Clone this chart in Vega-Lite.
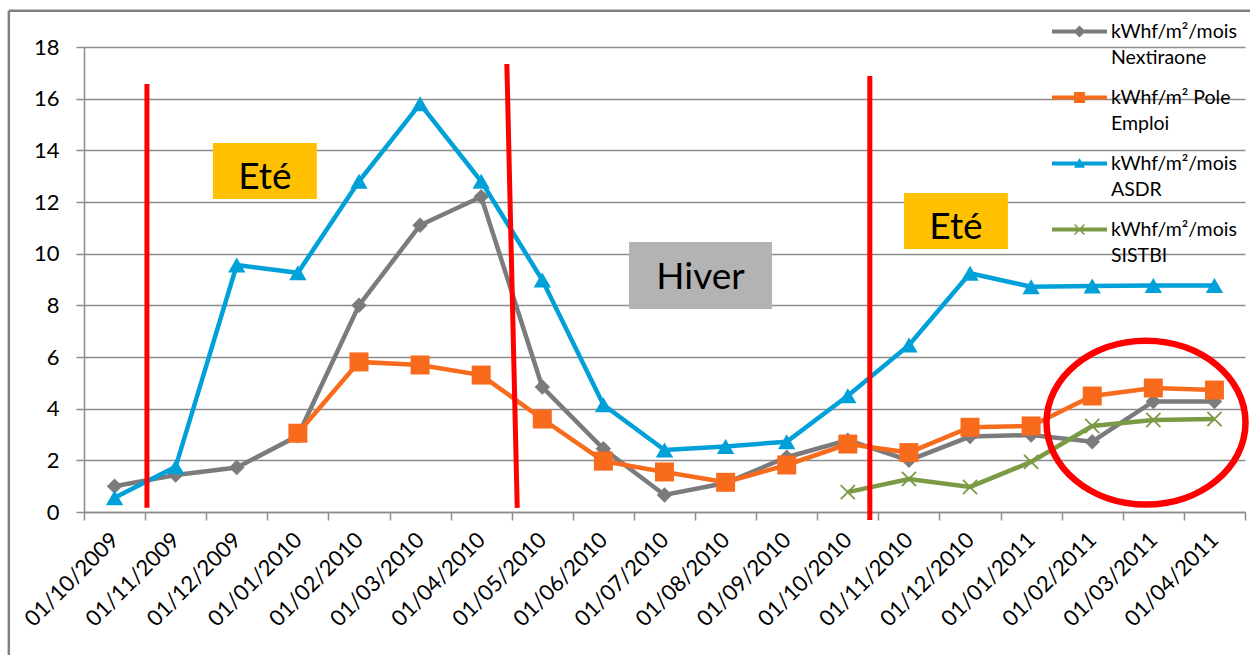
{
  "$schema": "https://vega.github.io/schema/vega-lite/v6.json",
  "width": 1161,
  "height": 465,
  "autosize": "none",
  "padding": {"left": 84, "top": 47, "right": 5, "bottom": 143},
  "background": "white",
  "config": {
    "font": "Lato",
    "view": {"stroke": null},
    "style": {"guide-label": {"lineHeight": 26}},
    "axisY": {"domainColor": "#8C8C8C", "domainWidth": 1.5, "gridColor": "#8C8C8C", "gridWidth": 1.5, "tickColor": "#8C8C8C", "tickWidth": 1.5, "tickSize": 8, "labelFont": "Lato", "labelFontSize": 22, "labelColor": "#000000", "labelPadding": 17, "tickCount": 9},
    "axisX": {"domainColor": "#8C8C8C", "domainWidth": 1.5, "grid": false, "tickColor": "#8C8C8C", "tickWidth": 1.5, "tickSize": 8, "labelFont": "Lato", "labelFontSize": 22, "labelColor": "#000000", "labelAngle": -45, "labelAlign": "right", "labelBaseline": "middle", "labelPadding": 16, "tickBand": "extent"}
  },
  "datasets": {
    "conso": [
      {"date": "01/10/2009", "series": "kWhf/m²/mois\nNextiraone", "v": 1.0},
      {"date": "01/11/2009", "series": "kWhf/m²/mois\nNextiraone", "v": 1.43},
      {"date": "01/12/2009", "series": "kWhf/m²/mois\nNextiraone", "v": 1.72},
      {"date": "01/01/2010", "series": "kWhf/m²/mois\nNextiraone", "v": 2.95},
      {"date": "01/02/2010", "series": "kWhf/m²/mois\nNextiraone", "v": 8.0},
      {"date": "01/03/2010", "series": "kWhf/m²/mois\nNextiraone", "v": 11.1},
      {"date": "01/04/2010", "series": "kWhf/m²/mois\nNextiraone", "v": 12.2},
      {"date": "01/05/2010", "series": "kWhf/m²/mois\nNextiraone", "v": 4.84},
      {"date": "01/06/2010", "series": "kWhf/m²/mois\nNextiraone", "v": 2.45},
      {"date": "01/07/2010", "series": "kWhf/m²/mois\nNextiraone", "v": 0.66},
      {"date": "01/08/2010", "series": "kWhf/m²/mois\nNextiraone", "v": 1.12},
      {"date": "01/09/2010", "series": "kWhf/m²/mois\nNextiraone", "v": 2.12},
      {"date": "01/10/2010", "series": "kWhf/m²/mois\nNextiraone", "v": 2.78},
      {"date": "01/11/2010", "series": "kWhf/m²/mois\nNextiraone", "v": 2.0},
      {"date": "01/12/2010", "series": "kWhf/m²/mois\nNextiraone", "v": 2.92},
      {"date": "01/01/2011", "series": "kWhf/m²/mois\nNextiraone", "v": 2.98},
      {"date": "01/02/2011", "series": "kWhf/m²/mois\nNextiraone", "v": 2.72},
      {"date": "01/03/2011", "series": "kWhf/m²/mois\nNextiraone", "v": 4.28},
      {"date": "01/04/2011", "series": "kWhf/m²/mois\nNextiraone", "v": 4.28},
      {"date": "01/01/2010", "series": "kWhf/m² Pole\nEmploi", "v": 3.05},
      {"date": "01/02/2010", "series": "kWhf/m² Pole\nEmploi", "v": 5.81},
      {"date": "01/03/2010", "series": "kWhf/m² Pole\nEmploi", "v": 5.69},
      {"date": "01/04/2010", "series": "kWhf/m² Pole\nEmploi", "v": 5.3},
      {"date": "01/05/2010", "series": "kWhf/m² Pole\nEmploi", "v": 3.6},
      {"date": "01/06/2010", "series": "kWhf/m² Pole\nEmploi", "v": 1.97},
      {"date": "01/07/2010", "series": "kWhf/m² Pole\nEmploi", "v": 1.55},
      {"date": "01/08/2010", "series": "kWhf/m² Pole\nEmploi", "v": 1.15},
      {"date": "01/09/2010", "series": "kWhf/m² Pole\nEmploi", "v": 1.82},
      {"date": "01/10/2010", "series": "kWhf/m² Pole\nEmploi", "v": 2.63},
      {"date": "01/11/2010", "series": "kWhf/m² Pole\nEmploi", "v": 2.3},
      {"date": "01/12/2010", "series": "kWhf/m² Pole\nEmploi", "v": 3.28},
      {"date": "01/01/2011", "series": "kWhf/m² Pole\nEmploi", "v": 3.33},
      {"date": "01/02/2011", "series": "kWhf/m² Pole\nEmploi", "v": 4.49},
      {"date": "01/03/2011", "series": "kWhf/m² Pole\nEmploi", "v": 4.8},
      {"date": "01/04/2011", "series": "kWhf/m² Pole\nEmploi", "v": 4.72},
      {"date": "01/10/2009", "series": "kWhf/m²/mois\nASDR", "v": 0.55},
      {"date": "01/11/2009", "series": "kWhf/m²/mois\nASDR", "v": 1.75},
      {"date": "01/12/2009", "series": "kWhf/m²/mois\nASDR", "v": 9.56},
      {"date": "01/01/2010", "series": "kWhf/m²/mois\nASDR", "v": 9.26},
      {"date": "01/02/2010", "series": "kWhf/m²/mois\nASDR", "v": 12.8},
      {"date": "01/03/2010", "series": "kWhf/m²/mois\nASDR", "v": 15.8},
      {"date": "01/04/2010", "series": "kWhf/m²/mois\nASDR", "v": 12.8},
      {"date": "01/05/2010", "series": "kWhf/m²/mois\nASDR", "v": 8.98},
      {"date": "01/06/2010", "series": "kWhf/m²/mois\nASDR", "v": 4.15},
      {"date": "01/07/2010", "series": "kWhf/m²/mois\nASDR", "v": 2.4},
      {"date": "01/08/2010", "series": "kWhf/m²/mois\nASDR", "v": 2.54},
      {"date": "01/09/2010", "series": "kWhf/m²/mois\nASDR", "v": 2.72},
      {"date": "01/10/2010", "series": "kWhf/m²/mois\nASDR", "v": 4.5},
      {"date": "01/11/2010", "series": "kWhf/m²/mois\nASDR", "v": 6.46},
      {"date": "01/12/2010", "series": "kWhf/m²/mois\nASDR", "v": 9.24},
      {"date": "01/01/2011", "series": "kWhf/m²/mois\nASDR", "v": 8.72},
      {"date": "01/02/2011", "series": "kWhf/m²/mois\nASDR", "v": 8.75},
      {"date": "01/03/2011", "series": "kWhf/m²/mois\nASDR", "v": 8.77},
      {"date": "01/04/2011", "series": "kWhf/m²/mois\nASDR", "v": 8.77},
      {"date": "01/10/2010", "series": "kWhf/m²/mois\nSISTBI", "v": 0.77},
      {"date": "01/11/2010", "series": "kWhf/m²/mois\nSISTBI", "v": 1.28},
      {"date": "01/12/2010", "series": "kWhf/m²/mois\nSISTBI", "v": 0.97},
      {"date": "01/01/2011", "series": "kWhf/m²/mois\nSISTBI", "v": 1.94},
      {"date": "01/02/2011", "series": "kWhf/m²/mois\nSISTBI", "v": 3.33},
      {"date": "01/03/2011", "series": "kWhf/m²/mois\nSISTBI", "v": 3.56},
      {"date": "01/04/2011", "series": "kWhf/m²/mois\nSISTBI", "v": 3.6}
    ],
    "frame": [
      {"x": -1.23, "x2": -1.23, "y": 19.4, "y2": -7},
      {"x": -1.23, "x2": 20.5, "y": 19.4, "y2": 19.4}
    ],
    "eteBoxes": [
      {"x": 2.11, "x2": 3.81, "y": 14.28, "y2": 12.12, "tx": 2.96, "ty": 12.5, "label": "Eté"},
      {"x": 13.42, "x2": 15.12, "y": 12.35, "y2": 10.18, "tx": 14.27, "ty": 10.55, "label": "Eté"}
    ],
    "hiverBox": [
      {"x": 8.92, "x2": 11.26, "y": 10.45, "y2": 7.86, "tx": 10.09, "ty": 8.62, "label": "Hiver"}
    ],
    "seasonLines": [
      {"x": 1.03, "x2": 1.03, "y": 16.57, "y2": 0.16},
      {"x": 6.92, "x2": 7.09, "y": 17.34, "y2": 0.16},
      {"x": 12.86, "x2": 12.86, "y": 16.88, "y2": -0.31}
    ],
    "highlight": [{"x": 17.38, "y": 3.46}]
  },
  "resolve": {"scale": {"x": "independent"}},
  "layer": [
    {
      "layer": [
        {
          "data": {"name": "frame"},
          "mark": {"type": "rule", "color": "#808080", "strokeWidth": 2.5, "clip": false},
          "encoding": {
            "x": {"field": "x", "type": "quantitative", "scale": {"domain": [0, 19], "nice": false, "zero": false}, "axis": null},
            "x2": {"field": "x2"},
            "y": {"field": "y", "type": "quantitative", "axis": {"title": null}},
            "y2": {"field": "y2"}
          }
        },
        {
          "data": {"name": "eteBoxes"},
          "mark": {"type": "rect", "fill": "#FFC000"},
          "encoding": {
            "x": {"field": "x", "type": "quantitative", "axis": null},
            "x2": {"field": "x2"},
            "y": {"field": "y", "type": "quantitative", "axis": {"title": null}},
            "y2": {"field": "y2"}
          }
        },
        {
          "data": {"name": "eteBoxes"},
          "mark": {"type": "text", "font": "Lato", "fontSize": 37, "color": "#000000", "align": "center", "baseline": "alphabetic"},
          "encoding": {
            "x": {"field": "tx", "type": "quantitative", "axis": null},
            "y": {"field": "ty", "type": "quantitative", "axis": {"title": null}},
            "text": {"field": "label"}
          }
        },
        {
          "data": {"name": "hiverBox"},
          "mark": {"type": "rect", "fill": "#B3B3B3"},
          "encoding": {
            "x": {"field": "x", "type": "quantitative", "axis": null},
            "x2": {"field": "x2"},
            "y": {"field": "y", "type": "quantitative", "axis": {"title": null}},
            "y2": {"field": "y2"}
          }
        },
        {
          "data": {"name": "hiverBox"},
          "mark": {"type": "text", "font": "Lato", "fontSize": 37, "color": "#000000", "align": "center", "baseline": "alphabetic"},
          "encoding": {
            "x": {"field": "tx", "type": "quantitative", "axis": null},
            "y": {"field": "ty", "type": "quantitative", "axis": {"title": null}},
            "text": {"field": "label"}
          }
        }
      ]
    },
    {
      "data": {"name": "conso"},
      "layer": [
        {
          "mark": {"type": "line", "strokeWidth": 4.5},
          "encoding": {
            "x": {"field": "date", "type": "ordinal", "sort": null, "scale": {"type": "band", "paddingInner": 0, "paddingOuter": 0}, "axis": {"title": null}},
            "y": {"field": "v", "type": "quantitative", "scale": {"domain": [0, 18], "nice": false}, "axis": {"title": null}},
            "color": {
              "field": "series", "type": "nominal",
              "scale": {
                "domain": ["kWhf/m²/mois\nNextiraone", "kWhf/m² Pole\nEmploi", "kWhf/m²/mois\nASDR", "kWhf/m²/mois\nSISTBI"],
                "range": ["#7B7B7D", "#F96B1C", "#00A0D8", "#7A9A45"]
              },
              "legend": {
                "orient": "none", "legendX": 968, "legendY": -43, "title": null, "padding": 0,
                "labelExpr": "split(datum.label, '\\n')",
                "labelFont": "Lato", "labelFontSize": 19.5, "labelColor": "#000000", "labelLimit": 0,
                "labelOffset": 4, "labelBaseline": "middle",
                "symbolSize": 3025, "symbolStrokeWidth": 0, "rowPadding": 3
              }
            }
          }
        },
        {
          "transform": [{"filter": "false"}],
          "mark": {"type": "point", "filled": true, "opacity": 1},
          "encoding": {
            "x": {"field": "date", "type": "ordinal", "sort": null, "axis": {"title": null}},
            "y": {"field": "v", "type": "quantitative", "axis": {"title": null}},
            "color": {"field": "series", "type": "nominal"},
            "shape": {
              "field": "series", "type": "nominal",
              "scale": {
                "domain": ["kWhf/m²/mois\nNextiraone", "kWhf/m² Pole\nEmploi", "kWhf/m²/mois\nASDR", "kWhf/m²/mois\nSISTBI"],
                "range": [
                  "M-1,-0.07H1V0.07H-1Z M-0.22,0L0,-0.22L0.22,0L0,0.22Z",
                  "M-1,-0.07H1V0.07H-1Z M-0.2,-0.2H0.2V0.2H-0.2Z",
                  "M-1,-0.07H1V0.07H-1Z M0,-0.2L0.2,0.15L-0.2,0.15Z",
                  "M-1,-0.07H1V0.07H-1Z M-0.2,-0.16L-0.16,-0.2L0.2,0.16L0.16,0.2Z M0.16,-0.2L0.2,-0.16L-0.16,0.2L-0.2,0.16Z"
                ]
              }
            }
          }
        },
        {
          "transform": [{"filter": "indexof(datum.series, 'Nextiraone') >= 0"}],
          "mark": {"type": "point", "filled": true, "opacity": 1, "shape": "diamond", "size": 240, "color": "#7B7B7D"},
          "encoding": {
            "x": {"field": "date", "type": "ordinal", "sort": null, "axis": {"title": null}},
            "y": {"field": "v", "type": "quantitative", "axis": {"title": null}}
          }
        },
        {
          "transform": [{"filter": "indexof(datum.series, 'Emploi') >= 0"}],
          "mark": {"type": "point", "filled": true, "opacity": 1, "shape": "square", "size": 361, "color": "#F96B1C"},
          "encoding": {
            "x": {"field": "date", "type": "ordinal", "sort": null, "axis": {"title": null}},
            "y": {"field": "v", "type": "quantitative", "axis": {"title": null}}
          }
        },
        {
          "transform": [{"filter": "indexof(datum.series, 'ASDR') >= 0"}],
          "mark": {"type": "point", "filled": true, "opacity": 1, "shape": "triangle-up", "size": 300, "color": "#00A0D8"},
          "encoding": {
            "x": {"field": "date", "type": "ordinal", "sort": null, "axis": {"title": null}},
            "y": {"field": "v", "type": "quantitative", "axis": {"title": null}}
          }
        },
        {
          "transform": [{"filter": "indexof(datum.series, 'SISTBI') >= 0"}],
          "mark": {"type": "point", "filled": false, "shape": "M-1,-1L1,1M-1,1L1,-1", "size": 200, "strokeWidth": 1.8, "opacity": 1, "color": "#7A9A45"},
          "encoding": {
            "x": {"field": "date", "type": "ordinal", "sort": null, "axis": {"title": null}},
            "y": {"field": "v", "type": "quantitative", "axis": {"title": null}}
          }
        }
      ]
    },
    {
      "layer": [
        {
          "data": {"name": "seasonLines"},
          "mark": {"type": "rule", "color": "#FF0000", "strokeWidth": 5},
          "encoding": {
            "x": {"field": "x", "type": "quantitative", "scale": {"domain": [0, 19], "nice": false, "zero": false}, "axis": null},
            "x2": {"field": "x2"},
            "y": {"field": "y", "type": "quantitative", "axis": {"title": null}},
            "y2": {"field": "y2"}
          }
        },
        {
          "data": {"name": "highlight"},
          "mark": {"type": "point", "filled": false, "shape": "M-1,0A1,0.824,0,1,1,1,0A1,0.824,0,1,1,-1,0Z", "size": 39601, "strokeWidth": 6.5, "color": "#FF0000", "opacity": 1},
          "encoding": {
            "x": {"field": "x", "type": "quantitative", "axis": null},
            "y": {"field": "y", "type": "quantitative", "axis": {"title": null}}
          }
        }
      ]
    }
  ]
}
